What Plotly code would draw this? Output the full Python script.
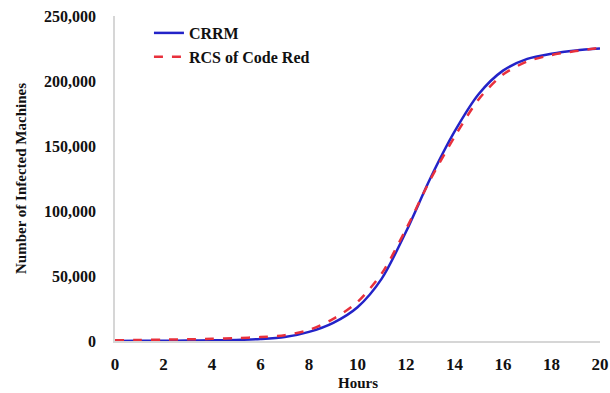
import plotly.graph_objects as go

# Infected host counts over the first 20 hours
hours = list(range(0, 21))
crrm = [0, 100, 200, 300, 500, 800, 1500, 3000, 7000, 14000, 26000,
        48000, 84000, 125000, 161000, 190000, 208000, 217000, 221000, 223500, 225000]
rcs_code_red = [500, 800, 1000, 1300, 1700, 2200, 3000, 4500, 8500, 17000, 30000,
                52000, 86000, 124000, 157000, 186000, 205000, 215000, 220000, 223000, 225500]

y_ticks = [0, 50000, 100000, 150000, 200000, 250000]
x_ticks = list(range(0, 21, 2))

font_family = "Liberation Serif"

fig = go.Figure()
fig.add_trace(go.Scatter(
    x=hours, y=crrm, name="<b>CRRM</b>", mode="lines",
    line=dict(color="#2323c8", width=2.5, shape="spline", smoothing=0.8),
))
fig.add_trace(go.Scatter(
    x=hours, y=rcs_code_red, name="<b>RCS of Code Red</b>", mode="lines",
    line=dict(color="#e8303c", width=2.5, dash="dash", shape="spline", smoothing=0.8),
))

fig.update_layout(
    width=610, height=393,
    margin=dict(l=115, r=10, t=16, b=52),
    paper_bgcolor="white", plot_bgcolor="white",
    font=dict(family=font_family, size=15, color="#111111"),
    showlegend=True,
    legend=dict(
        x=0.07, y=1.0, xanchor="left", yanchor="top",
        bgcolor="rgba(0,0,0,0)", font=dict(size=16, family=font_family),
        itemwidth=30, tracegroupgap=2,
    ),
    xaxis=dict(
        range=[0, 20], tickvals=x_ticks, ticktext=[f"<b>{v}</b>" for v in x_ticks],
        showgrid=False, zeroline=False, showline=True, linecolor="#d6d6d6", linewidth=1.5,
        ticks="", ticklabelstandoff=7, automargin=False,
        tickfont=dict(size=17, family=font_family),
    ),
    yaxis=dict(
        range=[0, 250000], tickvals=y_ticks, ticktext=[f"<b>{v:,}</b>" for v in y_ticks],
        showgrid=False, zeroline=False, showline=True, linecolor="#d6d6d6", linewidth=1.5,
        ticks="", ticklabelstandoff=14, automargin=False,
        tickfont=dict(size=16, family=font_family),
        title=dict(text="<b>Number of Infected Machines</b>", font=dict(size=15, family=font_family), standoff=14),
    ),
    annotations=[dict(
        text="<b>Hours</b>", xref="paper", yref="paper", x=0.5, y=-0.128,
        xanchor="center", yanchor="middle", showarrow=False,
        font=dict(size=15, family=font_family, color="#111111"),
    )],
)

fig.write_html("out.html")
